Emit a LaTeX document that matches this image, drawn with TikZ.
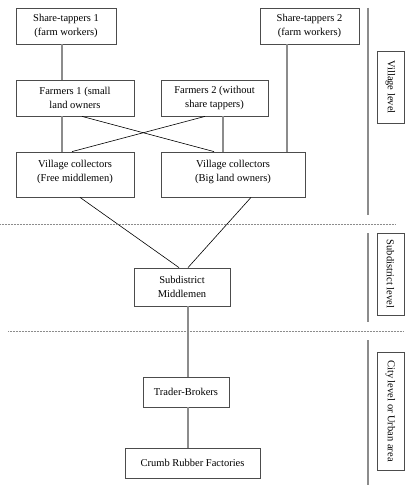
\documentclass[tikz,border=0pt]{standalone}
\usepackage{fontspec}
\setmainfont{Liberation Serif}
\usepackage{tikz}
\usetikzlibrary{calc,positioning}
\tikzstyle{actor}=[rectangle, draw=black!70, line width=0.8pt, align=center, font=\fontsize{10.5}{14}\selectfont, inner sep=2pt]
\tikzstyle{level}=[rectangle, draw=black!70, line width=0.8pt, rotate=-90, font=\fontsize{10.5}{13}\selectfont, inner sep=2pt, minimum height=27pt]
\tikzstyle{link}=[black!45, line width=1.3pt]
\tikzstyle{cross}=[black, line width=0.6pt]
\tikzstyle{sep}=[black!45, densely dotted, line width=0.5pt]
\tikzstyle{bar}=[black!45, line width=1.3pt]

\begin{document}
\begin{tikzpicture}[x=1pt, y=-1pt]
  \useasboundingbox (0,0) rectangle (408,492);
  % village level
  \node[actor, minimum width=100pt, minimum height=36pt] (st1) at (66,26)
    {Share-tappers 1\\(farm workers)};
  \node[actor, minimum width=99pt, minimum height=36pt] (st2) at (309.5,26)
    {Share-tappers 2\\(farm workers)};
  \node[actor, minimum width=118pt, minimum height=36pt] (f1) at (75,98)
    {Farmers 1 (small\\land owners};
  \node[actor, minimum width=107pt, minimum height=36pt] (f2) at (214.5,98)
    {Farmers 2 (without\\share tappers)};
  \node[actor, minimum width=118pt, minimum height=45pt, text depth=8pt] (vc1) at (75,174.5)
    {Village collectors\\(Free middlemen)};
  \node[actor, minimum width=144pt, minimum height=45pt, text depth=8pt] (vc2) at (233,174.5)
    {Village collectors\\(Big land owners)};
  % subdistrict and city
  \node[actor, minimum width=96pt, minimum height=38pt] (sm) at (182,287)
    {Subdistrict\\Middlemen};
  \node[actor, minimum width=86pt, minimum height=30pt] (tb) at (186,392)
    {Trader-Brokers};
  \node[actor, minimum width=135pt, minimum height=30pt] (crf) at (192.5,463)
    {Crumb Rubber Factories};
  % lines
  \draw[link] ([xshift=-4pt]st1.south) -- ([xshift=-4pt]st1.south |- f1.north);
  \draw[link] ([xshift=-22.5pt]st2.south) -- ([xshift=-22.5pt]st2.south |- vc2.north);
  \draw[link] ([xshift=-13pt]f1.south) -- ([xshift=-13pt]f1.south |- vc1.north);
  \draw[link] ([xshift=8.5pt]f2.south) -- ([xshift=8.5pt]f2.south |- vc2.north);
  \draw[cross] ([xshift=7pt]f1.south) -- ([xshift=-19pt]vc2.north);
  \draw[cross] ([xshift=-9.5pt]f2.south) -- ([xshift=-3pt]vc1.north);
  \draw[cross] ([xshift=5pt]vc1.south) -- ([xshift=-3pt]sm.north);
  \draw[cross] ([xshift=18pt]vc2.south) -- ([xshift=6pt]sm.north);
  \draw[link] ([xshift=6pt]sm.south) -- ([xshift=6pt]sm.south |- tb.north);
  \draw[link] ([xshift=2pt]tb.south) -- ([xshift=2pt]tb.south |- crf.north);
  % separators
  \coordinate (sep1) at (0,224);
  \coordinate (sep2) at (8,331);
  \draw[sep] (sep1) -- +(396,0);
  \draw[sep] (sep2) -- +(396,0);
  % levels
  \draw[bar] (368,8) -- (368,215);
  \draw[bar] (368,233) -- (368,322);
  \draw[bar] (368,340) -- (368,485);
  \node[level, minimum width=72pt] (vl) at (390.5,87) {Village level};
  \node[level, minimum width=82pt] (sl) at (390.5,274) {Subdistrict level};
  \node[level, minimum width=118pt] (cl) at (390.5,411) {City level or Urban area};
\end{tikzpicture}
\end{document}
